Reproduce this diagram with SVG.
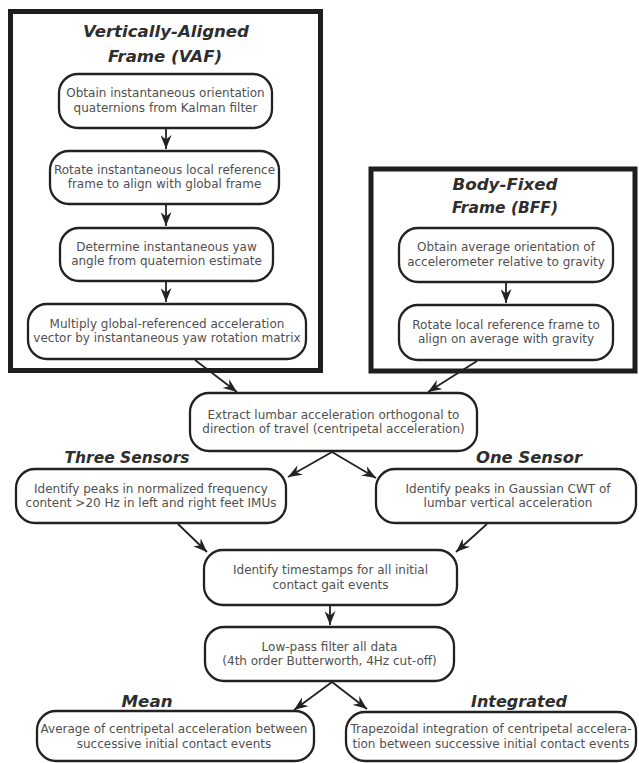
<svg xmlns="http://www.w3.org/2000/svg" width="639" height="763" viewBox="0 0 639 763">
<style>
.frame{fill:none;stroke:#1e1e1e;stroke-width:5}
.box{fill:#fff;stroke:#222;stroke-width:2.3}
.t{font-family:"DejaVu Sans","Verdana",sans-serif;font-size:12px;fill:#505050;text-anchor:middle}
.h{font-family:"DejaVu Sans","Verdana",sans-serif;font-size:16px;font-style:italic;font-weight:bold;fill:#2e2e2e;text-anchor:middle}
.c{fill:none;stroke:#222;stroke-width:1.8}
</style>
<defs>
<marker id="ah" viewBox="0 0 14 11" refX="14" refY="5.5" markerWidth="14" markerHeight="11" markerUnits="userSpaceOnUse" orient="auto">
<path d="M0,0 L14,5.5 L0,11 L4.5,5.5 Z" fill="#222"/>
</marker>
</defs>
<rect width="639" height="763" fill="#fff"/>
<g id="vaf-frame">
<rect class="frame" x="10.5" y="11.5" width="310" height="359"/>
<text class="h" x="166" y="37" textLength="166" lengthAdjust="spacingAndGlyphs">Vertically-Aligned</text>
<text class="h" x="165" y="62" textLength="114" lengthAdjust="spacingAndGlyphs">Frame (VAF)</text>
</g>
<g id="bff-frame">
<rect class="frame" x="371" y="169" width="264" height="202"/>
<text class="h" x="505" y="190" textLength="105" lengthAdjust="spacingAndGlyphs">Body-Fixed</text>
<text class="h" x="505" y="213" textLength="106" lengthAdjust="spacingAndGlyphs">Frame (BFF)</text>
</g>
<g id="connectors">
<line class="c" x1="166" y1="129" x2="166" y2="149" marker-end="url(#ah)"/>
<line class="c" x1="166" y1="205" x2="166" y2="226" marker-end="url(#ah)"/>
<line class="c" x1="166" y1="282" x2="166" y2="302" marker-end="url(#ah)"/>
<line class="c" x1="506" y1="283" x2="506" y2="303" marker-end="url(#ah)"/>
<line class="c" x1="195" y1="360" x2="237" y2="392" marker-end="url(#ah)"/>
<line class="c" x1="477" y1="361" x2="428" y2="392" marker-end="url(#ah)"/>
<line class="c" x1="332" y1="452" x2="288" y2="477" marker-end="url(#ah)"/>
<line class="c" x1="332" y1="452" x2="376" y2="478" marker-end="url(#ah)"/>
<line class="c" x1="178" y1="524" x2="207" y2="552" marker-end="url(#ah)"/>
<line class="c" x1="487" y1="524" x2="456" y2="552" marker-end="url(#ah)"/>
<line class="c" x1="330" y1="606" x2="330" y2="625" marker-end="url(#ah)"/>
<line class="c" x1="332" y1="682" x2="294" y2="710" marker-end="url(#ah)"/>
<line class="c" x1="332" y1="682" x2="367" y2="709" marker-end="url(#ah)"/>
</g>
<g id="vaf1">
<rect class="box" x="59" y="74" width="213" height="54" rx="19"/>
<text class="t" x="165.5" y="97">Obtain instantaneous orientation</text>
<text class="t" x="165.5" y="111.5">quaternions from Kalman filter</text>
</g>
<g id="vaf2">
<rect class="box" x="50" y="151" width="229" height="53" rx="19"/>
<text class="t" x="164.5" y="173.5">Rotate instantaneous local reference</text>
<text class="t" x="164.5" y="188">frame to align with global frame</text>
</g>
<g id="vaf3">
<rect class="box" x="60" y="228" width="213" height="53" rx="19"/>
<text class="t" x="166.5" y="250.5">Determine instantaneous yaw</text>
<text class="t" x="166.5" y="265">angle from quaternion estimate</text>
</g>
<g id="vaf4">
<rect class="box" x="28" y="304" width="278" height="55" rx="19"/>
<text class="t" x="167" y="327.5">Multiply global-referenced acceleration</text>
<text class="t" x="167" y="342">vector by instantaneous yaw rotation matrix</text>
</g>
<g id="bff1">
<rect class="box" x="399" y="228" width="214" height="54" rx="19"/>
<text class="t" x="506" y="251">Obtain average orientation of</text>
<text class="t" x="506" y="265.5">accelerometer relative to gravity</text>
</g>
<g id="bff2">
<rect class="box" x="399" y="305" width="214" height="55" rx="19"/>
<text class="t" x="506" y="328.5">Rotate local reference frame to</text>
<text class="t" x="506" y="343">align on average with gravity</text>
</g>
<g id="centripetal">
<rect class="box" x="190" y="393" width="287" height="58" rx="19"/>
<text class="t" x="333.5" y="418.5">Extract lumbar acceleration orthogonal to</text>
<text class="t" x="333.5" y="433">direction of travel (centripetal acceleration)</text>
</g>
<g id="three-sensors">
<text class="h" x="127" y="463" textLength="125" lengthAdjust="spacingAndGlyphs">Three Sensors</text>
<rect class="box" x="16" y="469" width="270" height="54" rx="19"/>
<text class="t" x="151" y="492.5">Identify peaks in normalized frequency</text>
<text class="t" x="151" y="507">content &gt;20 Hz in left and right feet IMUs</text>
</g>
<g id="one-sensor">
<text class="h" x="529" y="463" textLength="106" lengthAdjust="spacingAndGlyphs">One Sensor</text>
<rect class="box" x="376" y="469" width="260" height="54" rx="19"/>
<text class="t" x="508" y="492.5">Identify peaks in Gaussian CWT of</text>
<text class="t" x="508" y="507">lumbar vertical acceleration</text>
</g>
<g id="timestamps">
<rect class="box" x="204" y="550" width="253" height="55" rx="19"/>
<text class="t" x="330.5" y="574">Identify timestamps for all initial</text>
<text class="t" x="330.5" y="588.5">contact gait events</text>
</g>
<g id="lowpass">
<rect class="box" x="205" y="627" width="249" height="54" rx="19"/>
<text class="t" x="329.5" y="650.5">Low-pass filter all data</text>
<text class="t" x="329.5" y="665">(4th order Butterworth, 4Hz cut-off)</text>
</g>
<g id="mean">
<text class="h" x="147" y="707" textLength="51" lengthAdjust="spacingAndGlyphs">Mean</text>
<rect class="box" x="37" y="711" width="277" height="50" rx="19"/>
<text class="t" x="174" y="733">Average of centripetal acceleration between</text>
<text class="t" x="174" y="747.5">successive initial contact events</text>
</g>
<g id="integrated">
<text class="h" x="519" y="707" textLength="96" lengthAdjust="spacingAndGlyphs">Integrated</text>
<rect class="box" x="346" y="712" width="290" height="49" rx="19"/>
<text class="t" x="491" y="733">Trapezoidal integration of centripetal accelera-</text>
<text class="t" x="491" y="747.5">tion between successive initial contact events</text>
</g>
</svg>
